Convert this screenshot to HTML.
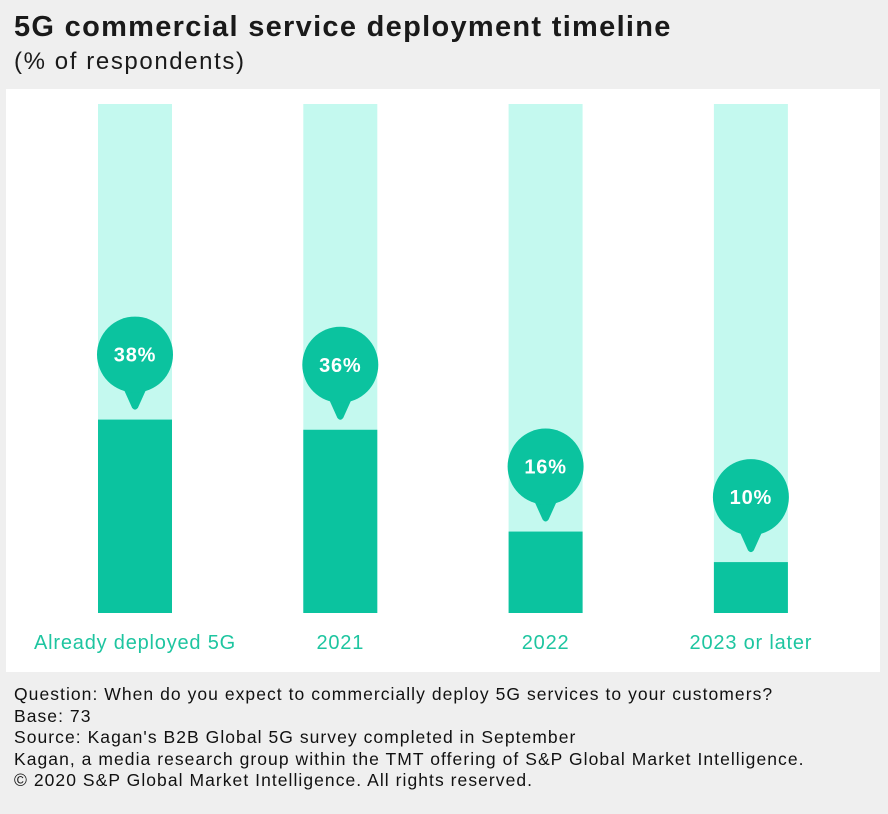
<!DOCTYPE html>
<html><head><meta charset="utf-8"><style>
body{margin:0;width:888px;height:814px;background:#efefef;font-family:"Liberation Sans",sans-serif;overflow:hidden;position:relative}
.t{position:absolute;left:14px;top:11px;font-size:29px;font-weight:bold;color:#1a1a1a;letter-spacing:1.3px;white-space:nowrap}
.s{position:absolute;left:14px;top:48px;font-size:24px;color:#1a1a1a;letter-spacing:1.6px}
.n{position:absolute;left:14px;top:684px;font-size:17.5px;line-height:21.5px;color:#111;letter-spacing:1.05px;white-space:nowrap}
svg{position:absolute;left:0;top:0}
</style></head><body>
<div class="t">5G commercial service deployment timeline</div>
<div class="s">(% of respondents)</div>
<svg id="c" width="888" height="814">
<rect x="6" y="89" width="874" height="583" fill="#fff"/>
</svg>
<div class="n">Question: When do you expect to commercially deploy 5G services to your customers?<br>Base: 73<br>Source: Kagan's B2B Global 5G survey completed in September<br>Kagan, a media research group within the TMT offering of S&amp;P Global Market Intelligence.<br>© 2020 S&amp;P Global Market Intelligence. All rights reserved.</div>
<script>
const categories=["Already deployed 5G","2021","2022","2023 or later"];
const values=[38,36,16,10];
const labels=["38%","36%","16%","10%"];
const svg=document.getElementById('c');const NS='http://www.w3.org/2000/svg';
const x0=98,step=205.3,bw=74,base=613,full=509;
const y=v=>base-v/100*full;
function mk(t,a){const e=document.createElementNS(NS,t);for(const k in a)e.setAttribute(k,a[k]);svg.appendChild(e);return e;}
categories.forEach((c,i)=>{
const x=x0+i*step,cx=x+bw/2,top=y(values[i]);
let e=mk('rect',{x:x,y:base-full,width:bw,height:full,fill:'#c4f9ef'});


e=mk('rect',{x:x,y:top,width:bw,height:base-top,fill:'#0bc39f'});


const cy=top-65;
e=mk('path',{d:`M${cx-12} ${cy+33} L${cx-3} ${top-12} Q${cx} ${top-8} ${cx+3} ${top-12} L${cx+12} ${cy+33} Z`,fill:'#0bc39f'});


e=mk('circle',{cx:cx,cy:cy,r:38,fill:'#0bc39f'});


e=mk('text',{x:cx,y:cy+7,'text-anchor':'middle','font-size':20,'font-weight':'bold','letter-spacing':'0.8',fill:'#fff','font-family':'Liberation Sans, sans-serif'});
e.textContent=labels[i];


e=mk('text',{x:cx,y:649,'text-anchor':'middle','font-size':20,'letter-spacing':'0.8',fill:'#1ec5a0','font-family':'Liberation Sans, sans-serif'});
e.textContent=c;


});
</script>
</body></html>
